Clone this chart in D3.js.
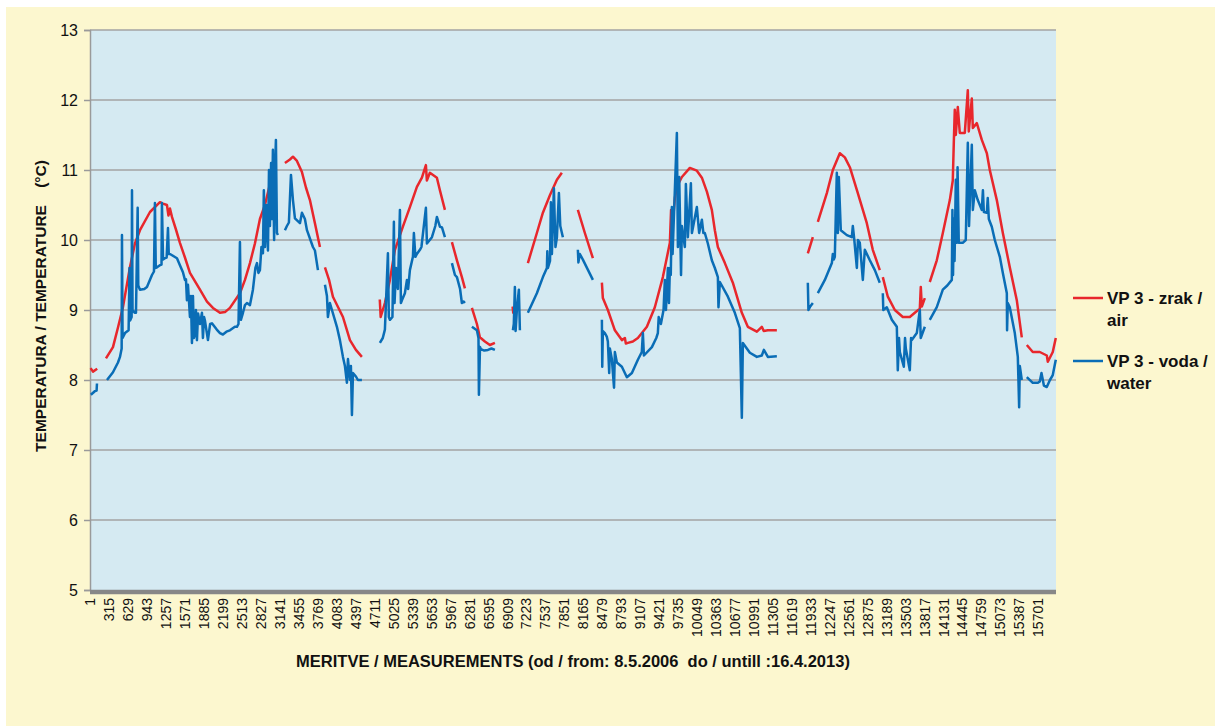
<!DOCTYPE html>
<html><head><meta charset="utf-8">
<script src="https://cdn.jsdelivr.net/npm/d3@7"></script>
<style>
body{margin:0;background:#fff;}
svg{display:block;font-family:"Liberation Sans",Arial,sans-serif;}
</style></head>
<body><svg id="c" width="1215" height="726"></svg>
<script>
// number of measurements on the category axis
const N = 16000;
// category tick labels shown on the x axis
const xTickLabels = d3.range(1, 15702, 314);
const yTicks = [5,6,7,8,9,10,11,12,13];
const seriesNames = ["VP 3 - zrak / air", "VP 3 - voda / water"];

// VP 3 - zrak / air : [measurement, °C], null = gap
const air = [
 [10,8.17],[50,8.12],[120,8.16],null,
 [265,8.31],[381,8.47],[464,8.75],[546,9.04],[662,9.61],[745,9.95],[828,10.14],[994,10.4],[1159,10.54],[1209,10.52],[1275,10.5],[1300,10.35],[1325,10.45],[1358,10.33],[1424,10.15],[1490,9.96],[1573,9.75],[1656,9.53],[1822,9.29],[1938,9.12],[2037,9.03],[2153,8.96],[2236,8.97],[2318,9.03],[2484,9.24],[2567,9.43],[2650,9.67],[2732,9.95],[2815,10.3],[2898,10.5],[2981,10.8],[3064,11.04],null,
 [3229,11.1],[3312,11.15],[3362,11.19],[3428,11.13],[3511,10.97],[3577,10.75],[3643,10.57],[3726,10.24],[3809,9.9],null,
 [3892,9.61],[3960,9.43],[4024,9.19],[4190,8.9],[4306,8.57],[4405,8.43],[4504,8.33],null,
 [4800,9.15],[4815,8.9],[4885,9.1],[4968,9.43],[5051,9.86],[5183,10.19],[5299,10.47],[5415,10.76],[5498,10.89],[5564,11.07],[5580,10.85],[5630,10.96],[5746,10.89],[5796,10.71],[5879,10.43],null,
 [5995,9.97],[6078,9.71],[6160,9.47],[6210,9.31],null,
 [6326,9.03],[6409,8.8],[6458,8.61],[6541,8.55],[6624,8.5],[6707,8.53],null,
 [7000,9.05],[7012,8.95],null,
 [7253,9.67],[7402,10.1],[7502,10.39],[7618,10.64],[7734,10.86],[7816,10.96],null,
 [8081,10.43],[8197,10.1],[8330,9.74],null,
 [8479,9.39],[8495,9.17],[8578,9.0],[8694,8.71],[8810,8.57],[8860,8.6],[8876,8.52],[8909,8.53],[8992,8.55],[9075,8.6],[9224,8.76],[9356,9.04],[9489,9.47],[9605,9.96],[9625,10.43],[9638,10.1],[9688,10.6],[9721,10.76],[9804,10.9],[9936,11.03],[10052,10.99],[10135,10.89],[10218,10.69],[10300,10.43],[10350,10.14],[10400,9.9],[10516,9.67],[10648,9.39],[10797,8.96],[10896,8.76],[11046,8.69],[11128,8.76],[11160,8.7],[11228,8.71],[11377,8.71],null,
 [11890,9.81],[11973,10.04],null,
 [12056,10.26],[12205,10.67],[12304,11.0],[12420,11.24],[12503,11.18],[12586,11.04],[12718,10.67],[12867,10.24],[12966,9.86],[13082,9.57],null,
 [13132,9.47],[13215,9.19],[13331,9.0],[13463,8.9],[13579,8.9],[13662,8.96],[13745,9.02],[13761,9.33],[13778,9.05],[13828,9.17],null,
 [13910,9.4],[14026,9.71],[14126,10.1],[14242,10.57],[14291,10.85],[14308,11.4],[14324,11.86],[14341,11.5],[14374,11.9],[14407,11.53],[14490,11.53],[14540,12.14],[14556,11.55],[14606,12.02],[14623,11.6],[14689,11.67],[14772,11.43],[14855,11.24],[14904,11.0],[15020,10.57],[15120,10.1],[15235,9.61],[15351,9.14],[15434,8.61],null,
 [15517,8.5],[15616,8.4],[15732,8.4],[15848,8.35],[15865,8.26],[15947,8.4],[15997,8.6]
];

// VP 3 - voda / water : [measurement, °C], null = gap
const water = [
 [15,7.79],[80,7.84],[110,7.85],[116,7.95],null,
 [282,8.0],[381,8.11],[464,8.25],[497,8.33],[525,8.45],[530,10.07],[540,8.6],[580,8.67],[640,8.71],[655,9.6],[665,8.85],[690,8.9],[696,10.71],[705,9.0],[740,8.96],[762,8.96],[790,10.46],[800,9.35],[828,9.29],[900,9.3],[944,9.33],[1027,9.5],[1060,9.55],[1076,10.53],[1090,9.6],[1110,9.61],[1159,9.64],[1185,9.65],[1192,10.53],[1210,9.72],[1242,9.74],[1270,9.75],[1292,10.17],[1305,9.8],[1325,9.8],[1441,9.74],[1490,9.64],[1540,9.54],[1573,9.43],[1590,9.44],[1606,9.14],[1623,9.36],[1656,8.9],[1672,9.2],[1689,8.53],[1706,9.2],[1722,8.6],[1739,8.65],[1755,9.0],[1772,8.57],[1790,8.95],[1822,8.8],[1855,8.96],[1871,8.6],[1890,8.9],[1904,8.85],[1954,8.57],[1990,8.8],[2020,8.81],[2100,8.72],[2153,8.67],[2202,8.65],[2260,8.69],[2318,8.71],[2400,8.76],[2434,8.76],[2460,8.8],[2484,9.97],[2500,8.86],[2534,8.96],[2567,9.07],[2600,9.1],[2650,9.07],[2699,9.29],[2740,9.6],[2766,9.67],[2790,9.53],[2815,9.57],[2840,9.9],[2865,9.81],[2880,10.71],[2898,9.9],[2920,10.5],[2948,9.85],[2965,11.0],[2981,10.2],[3000,11.1],[3014,10.3],[3030,11.29],[3050,10.0],[3064,11.0],[3080,11.43],[3097,10.1],[3113,10.07],null,
 [3229,10.14],[3262,10.2],[3295,10.25],[3329,10.93],[3362,10.57],[3395,10.31],[3478,10.24],[3511,10.39],[3560,10.3],[3594,10.14],[3693,9.9],[3726,9.85],[3776,9.57],null,
 [3892,9.36],[3925,9.2],[3941,8.9],[3974,9.1],[4090,8.76],[4140,8.57],[4190,8.33],[4223,8.2],[4256,7.96],[4273,8.3],[4306,8.0],[4322,8.2],[4339,7.5],[4356,8.1],[4405,8.05],[4438,8.0],[4504,8.0],null,
 [4802,8.53],[4850,8.6],[4885,8.72],[4935,9.81],[4950,8.9],[4968,8.86],[5010,8.9],[5034,10.26],[5045,9.1],[5070,9.6],[5100,9.3],[5134,10.43],[5150,9.1],[5167,9.14],[5216,9.24],[5250,9.43],[5270,9.3],[5299,9.57],[5349,9.76],[5365,10.1],[5390,9.76],[5415,9.8],[5465,9.86],[5490,9.9],[5564,10.46],[5581,9.95],[5664,10.04],[5720,10.2],[5746,10.33],[5796,10.19],[5830,10.18],[5879,10.04],null,
 [5995,9.67],[6045,9.5],[6078,9.47],[6130,9.3],[6160,9.1],[6190,9.12],[6210,9.1],null,
 [6326,8.76],[6409,8.71],[6435,8.6],[6442,7.79],[6460,8.47],[6475,8.44],[6530,8.42],[6591,8.43],[6650,8.45],[6707,8.43],null,
 [7005,8.71],[7020,8.8],[7038,9.33],[7050,8.7],[7071,9.0],[7104,9.29],[7121,8.71],null,
 [7253,8.96],[7402,9.24],[7502,9.47],[7568,9.6],[7575,9.84],[7585,9.6],[7620,9.7],[7634,10.54],[7651,9.8],[7684,10.74],[7710,9.9],[7734,10.04],[7767,10.67],[7790,10.2],[7833,10.04],null,
 [8081,9.86],[8090,9.68],[8114,9.8],[8164,9.72],[8250,9.57],[8330,9.43],null,
 [8479,8.86],[8485,8.19],[8495,8.7],[8528,8.67],[8560,8.62],[8578,8.55],[8600,8.1],[8611,8.45],[8644,8.3],[8680,7.89],[8694,8.4],[8727,8.25],[8810,8.19],[8893,8.04],[8976,8.1],[9075,8.29],[9140,8.4],[9158,8.67],[9175,8.35],[9307,8.47],[9380,8.6],[9406,8.67],[9420,8.9],[9456,8.8],[9500,9.0],[9522,9.43],[9540,9.0],[9572,9.6],[9590,9.1],[9605,9.6],[9620,9.5],[9638,10.47],[9650,9.8],[9721,11.53],[9738,9.9],[9760,10.9],[9790,9.5],[9804,10.2],[9853,9.9],[9870,10.8],[9903,10.04],[9953,10.81],[9970,10.1],[10052,10.47],[10090,10.1],[10135,10.29],[10160,10.1],[10184,10.1],[10234,9.95],[10300,9.71],[10350,9.6],[10400,9.47],[10410,9.04],[10433,9.4],[10566,9.19],[10681,8.96],[10764,8.74],[10797,7.46],[10814,8.53],[10930,8.39],[11046,8.33],[11128,8.35],[11162,8.43],[11228,8.33],[11377,8.34],null,
 [11890,9.39],[11900,9.0],[11930,9.05],[11973,9.1],null,
 [12056,9.24],[12172,9.43],[12288,9.67],[12304,9.8],[12320,9.72],[12337,9.76],[12370,10.96],[12387,10.1],[12403,10.9],[12436,10.14],[12536,10.07],[12619,10.04],[12635,10.2],[12660,10.0],[12702,9.6],[12720,10.0],[12751,9.96],[12801,9.43],[12834,9.86],[12917,9.71],[13000,9.57],[13082,9.39],null,
 [13132,9.24],[13140,9.0],[13198,9.04],[13281,8.86],[13364,8.76],[13380,8.14],[13400,8.6],[13414,8.4],[13480,8.19],[13500,8.6],[13513,8.45],[13579,8.14],[13600,8.6],[13612,8.57],[13695,8.67],[13745,9.0],[13760,8.6],[13828,8.76],null,
 [13910,8.86],[14026,9.04],[14126,9.29],[14200,9.35],[14275,9.43],[14285,10.43],[14295,9.5],[14308,10.3],[14320,9.7],[14341,10.86],[14357,9.96],[14370,11.04],[14390,9.96],[14456,9.96],[14506,10.0],[14540,11.39],[14560,10.2],[14606,11.36],[14623,10.43],[14656,10.71],[14705,10.57],[14772,10.43],[14790,10.71],[14805,10.4],[14855,10.39],[14870,10.6],[14888,10.3],[14937,10.19],[14987,10.0],[15070,9.76],[15120,9.53],[15186,9.24],[15190,8.71],[15202,9.1],[15235,9.04],[15318,8.67],[15368,8.33],[15390,7.61],[15401,8.2],[15434,8.0],null,
 [15517,8.04],[15616,7.96],[15700,7.96],[15732,7.98],[15760,8.1],[15800,7.92],[15848,7.9],[15900,8.0],[15947,8.07],[15997,8.29]
];

const colors = ["#E8272C", "#0A6DB6"];

const svg = d3.select("#c");
const L = 90, R = 1056, T = 30, B = 590;

svg.append("rect").attr("x",6).attr("y",7).attr("width",1209).attr("height",719).attr("fill","#FCF7CF");
svg.append("rect").attr("x",L).attr("y",T).attr("width",R-L).attr("height",B-T).attr("fill","#D5EAF2");

const x = d3.scaleLinear().domain([0.5, N+0.5]).range([L, R]);
const y = d3.scaleLinear().domain([5, 13]).range([B, T]);

// gridlines
svg.append("g").selectAll("line").data(yTicks.filter(d=>d>5)).join("line")
  .attr("x1",L).attr("x2",R).attr("y1",d=>y(d)).attr("y2",d=>y(d))
  .attr("stroke","#A3A3A3").attr("stroke-width",1.5);

// y axis
const ya = svg.append("g").attr("transform",`translate(${L},0)`)
  .call(d3.axisLeft(y).tickValues(yTicks).tickSize(6).tickPadding(6).tickFormat(d3.format("d")));
ya.select(".domain").attr("stroke","#9a9a9a").attr("stroke-width",1.5);
ya.selectAll(".tick line").attr("stroke","#9a9a9a").attr("stroke-width",1.5);
ya.selectAll("text").attr("font-size",16).attr("fill","#111").attr("font-family","Liberation Sans, Arial, sans-serif");

// x axis
const xa = svg.append("g").attr("transform",`translate(0,${B})`)
  .call(d3.axisBottom(x).tickValues(xTickLabels).tickSize(0).tickFormat(d3.format("d")));
xa.select(".domain").remove();
xa.selectAll(".tick text")
  .attr("font-size",14).attr("fill","#111").attr("font-family","Liberation Sans, Arial, sans-serif")
  .attr("text-anchor","end").attr("dy","0.35em")
  .attr("transform","translate(0,8) rotate(-90)").attr("x",0).attr("y",0);
svg.append("line").attr("x1",L).attr("x2",R).attr("y1",B+2).attr("y2",B+2)
  .attr("stroke","#878787").attr("stroke-width",4.5);

// lines
const line = d3.line().defined(d=>d!==null).x(d=>x(d[0])).y(d=>y(d[1]));
[air, water].forEach((s,i)=>{
  svg.append("path").datum(s).attr("d",line).attr("fill","none")
    .attr("stroke",colors[i]).attr("stroke-width",2.5).attr("stroke-linejoin","round");
});

// axis titles
svg.append("text").attr("x",573).attr("y",667).attr("text-anchor","middle")
  .attr("font-size",16.5).attr("font-weight","bold").attr("fill","#111")
  .text("MERITVE / MEASUREMENTS (od / from: 8.5.2006\u00a0\u00a0do / untill :16.4.2013)");
svg.append("text").attr("transform","translate(46,306) rotate(-90)").attr("text-anchor","middle")
  .attr("font-size",15.5).attr("font-weight","bold").attr("fill","#111")
  .text("TEMPERATURA / TEMPERATURE\u00a0\u00a0\u00a0\u00a0(°C)");

// legend
const legY = [298, 361];
seriesNames.forEach((n,i)=>{
  const g = svg.append("g");
  g.append("line").attr("x1",1073).attr("x2",1103).attr("y1",legY[i]).attr("y2",legY[i])
    .attr("stroke",colors[i]).attr("stroke-width",2.5);
  const parts = n.split("/ ");
  const t = g.append("text").attr("x",1107).attr("y",legY[i]+6)
    .attr("font-size",17).attr("font-weight","bold").attr("fill","#111");
  t.append("tspan").attr("x",1107).text(parts[0]+"/");
  t.append("tspan").attr("x",1107).attr("dy",22).text(parts[1]);
});
</script>
</body></html>
